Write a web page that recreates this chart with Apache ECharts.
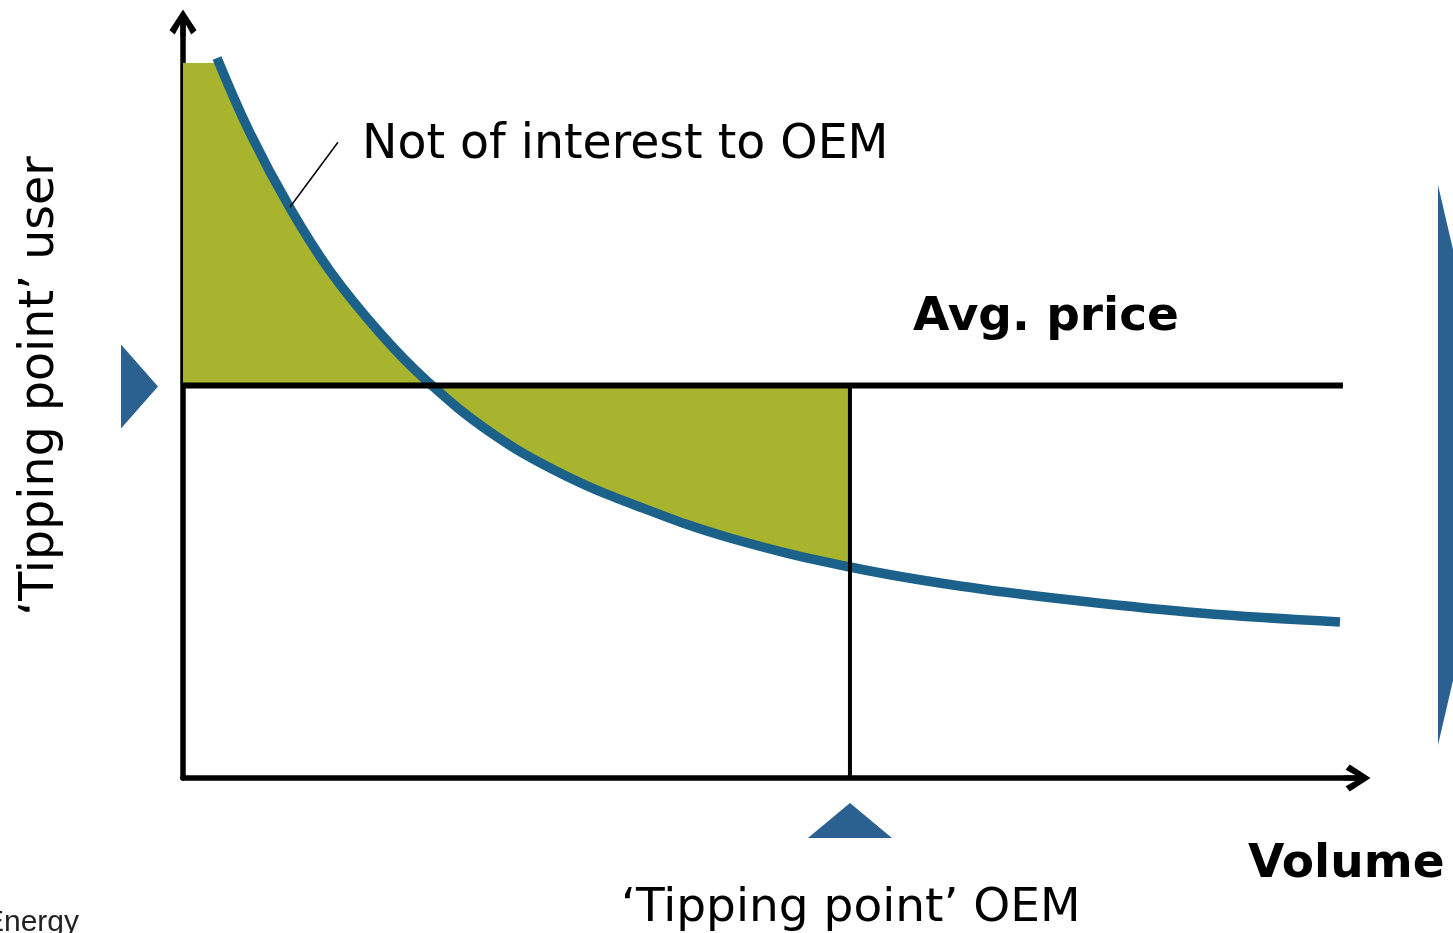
<!DOCTYPE html>
<html><head><meta charset="utf-8">
<style>html,body{margin:0;padding:0;background:#fff;overflow:hidden}#c{width:1453px;height:933px}</style>
<script src="https://cdn.jsdelivr.net/npm/echarts@6/dist/echarts.min.js"></script>
</head><body><div id="c"></div>
<script>
// ---- data (arbitrary units: volume 0..100, price 0..100) ----
const curveX = [2.90, 5.71, 9.11, 12.52, 16.78, 20.78, 26.15, 32.11, 38.93, 46.59, 56.81, 66.18, 76.41, 86.63, 98.55];
const curveY = [95.36, 85.43, 75.50, 67.15, 58.94, 52.58, 45.83, 40.40, 35.89, 31.79, 27.95, 25.43, 23.44, 21.85, 20.66];
const avgPrice = 52;
const avgLineEnd = 98.8;
const tippingOEM = 56.81;
const fillTop = 94.7;
const leaderX = [9.1, 13.2];
const leaderY = [75.6, 84.2];
const labelTexts = ['Not of interest to OEM', 'Avg. price', 'Volume', '\u2018Tipping point\u2019 OEM', '\u2018Tipping point\u2019 user', 'Energy'];

const BLUE = '#1b6189', GREEN = '#a8b42e', MARK = '#2a6190';
const chevron = 'path://M13,0 L26,20 L21,24 L15.5,14 L15.5,26 L10.5,26 L10.5,14 L5,24 L0,20 Z';

const chart = echarts.init(document.getElementById('c'), null, {renderer: 'canvas'});

const axisCommon = {
  type: 'value', min: 0, max: 100,
  axisTick: {show: false}, axisLabel: {show: false}, splitLine: {show: false},
  axisLine: {show: true, onZero: false, symbol: ['none', chevron], symbolSize: [27, 27],
             lineStyle: {color: '#000', width: 5.5}}
};

const curveData = curveX.map((x, i) => [x, curveY[i]]);

chart.setOption({
  animation: false,
  backgroundColor: '#fff',
  grid: {left: 183, right: 1453 - 1357, top: 23, bottom: 933 - 778},
  xAxis: Object.assign({}, axisCommon),
  yAxis: Object.assign({}, axisCommon),
  series: [
    { // green area between curve and avg price up to OEM tipping point
      type: 'custom', silent: true, z: 1,
      data: [[0, 0]],
      renderItem: (params, api) => {
        const pts = [[0, avgPrice], [0, fillTop]];
        curveX.forEach((x, i) => { if (x <= tippingOEM) pts.push([x, Math.min(curveY[i], fillTop)]); });
        pts.push([tippingOEM, avgPrice]);
        return {type: 'polygon', shape: {points: pts.map(p => api.coord(p))}, style: {fill: GREEN}};
      }
    },
    { // cost curve
      type: 'line', z: 2, data: curveData, smooth: 0.4,
      showSymbol: false, silent: true, clip: false,
      lineStyle: {color: BLUE, width: 9.5, cap: 'butt'}
    },
    { // average price line
      type: 'line', z: 3, data: [[0, avgPrice], [avgLineEnd, avgPrice]],
      showSymbol: false, silent: true, lineStyle: {color: '#000', width: 6}
    },
    { // tipping point OEM vertical
      type: 'line', z: 3, data: [[tippingOEM, 0], [tippingOEM, avgPrice]],
      showSymbol: false, silent: true, lineStyle: {color: '#000', width: 4}
    },
    { // leader line to label
      type: 'line', z: 3, data: leaderX.map((x, i) => [x, leaderY[i]]),
      showSymbol: false, silent: true, lineStyle: {color: '#000', width: 1.5}
    },
    { // marker triangles on axes
      type: 'custom', silent: true, z: 4, clip: false,
      data: [[0, avgPrice, 0], [tippingOEM, 0, 1]],
      renderItem: (params, api) => {
        const c = api.coord([api.value(0), api.value(1)]);
        const pts = api.value(2) === 0
          ? [[c[0] - 62, c[1] - 41], [c[0] - 62, c[1] + 43], [c[0] - 25, c[1] + 1]]
          : [[c[0] - 42, c[1] + 60], [c[0] + 42, c[1] + 60], [c[0], c[1] + 25]];
        return {type: 'polygon', shape: {points: pts}, style: {fill: MARK}};
      }
    }
  ],
  graphic: [
    {type: 'polygon', shape: {points: [[1438, 185], [1438, 745], [1503, 465]]}, style: {fill: MARK}},
    {type: 'text', x: 362, y: 146, style: {text: labelTexts[0], font: '47.4px "DejaVu Sans"', fill: '#000', align: 'left', textAlign: 'left', verticalAlign: 'middle', textVerticalAlign: 'middle'}},
    {type: 'text', x: 913, y: 318, style: {text: labelTexts[1], font: 'bold 47px "DejaVu Sans"', fill: '#000', align: 'left', textAlign: 'left', verticalAlign: 'middle', textVerticalAlign: 'middle'}},
    {type: 'text', x: 1248, y: 865, style: {text: labelTexts[2], font: 'bold 47px "DejaVu Sans"', fill: '#000', align: 'left', textAlign: 'left', verticalAlign: 'middle', textVerticalAlign: 'middle'}},
    {type: 'text', x: 621, y: 909, style: {text: labelTexts[3], font: '47px "DejaVu Sans"', fill: '#000', align: 'left', textAlign: 'left', verticalAlign: 'middle', textVerticalAlign: 'middle'}},
    {type: 'text', x: 41, y: 386, rotation: Math.PI / 2, style: {text: labelTexts[4], font: '47.5px "DejaVu Sans"', fill: '#000', align: 'center', textAlign: 'center', verticalAlign: 'middle', textVerticalAlign: 'middle'}},
    {type: 'text', x: 79, y: 923, style: {text: labelTexts[5], font: '30px "Liberation Sans"', fill: '#222', align: 'right', textAlign: 'right', verticalAlign: 'middle', textVerticalAlign: 'middle'}}
  ]
});
</script>
</body></html>
